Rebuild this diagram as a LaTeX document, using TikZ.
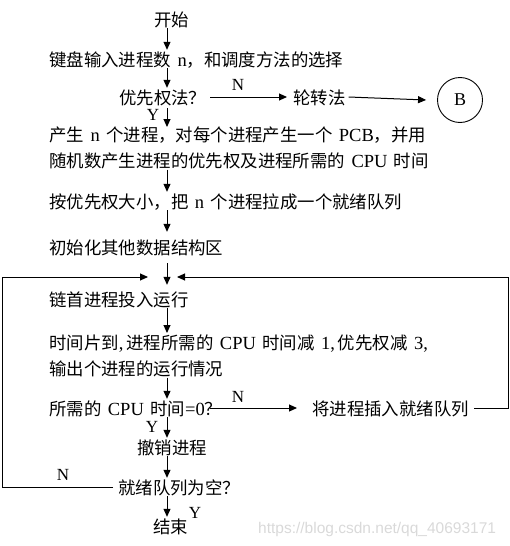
\documentclass[tikz,border=0pt]{standalone}
\usepackage{fontspec}
\setmainfont{Liberation Serif}
\newfontfamily\cjk{Noto Sans CJK SC}
\newfontfamily\wmfont{Liberation Sans}
\usetikzlibrary{arrows.meta,calc}
\newcommand\en[1]{{\rmfamily\fontsize{18.5}{26}\selectfont #1}}
\newcommand\gap{\hspace{6.5pt}}
\tikzset{
  txt/.style={font=\cjk\fontsize{17.4}{26}\selectfont, inner sep=0pt, text height=16pt, text depth=2pt, anchor=base west},
  txttwo/.style={font=\cjk\fontsize{17.4}{26}\selectfont, inner sep=0pt, anchor=north west, align=left},
  arr/.style={-{Triangle[length=8pt,width=7pt]}, line width=1pt},
  lab/.style={font=\rmfamily\fontsize{17}{20}\selectfont, inner sep=0pt},
}
\begin{document}
\begin{tikzpicture}[x=1pt,y=-1pt]
\useasboundingbox (0,0) rectangle (509,546);
\coordinate (sp) at (167,0);
\node[txt] (start) at (154,26) {开始};
\node[txt] (input) at (49,66) {键盘输入进程数\gap\en{n}，和调度方法的选择};
\node[txt] (prio) at (119,104) {优先权法？};
\node[txt] (rr) at (293,104) {轮转法};
\node[circle, draw, line width=0.9pt, minimum size=45pt, inner sep=0pt, font=\rmfamily\fontsize{18}{20}\selectfont] (B) at (460,100) {B};
\node[txttwo] (gen) at (49,127) {产生\gap\en{n}\gap 个进程，对每个进程产生一个\gap\en{PCB}，并用\\随机数产生进程的优先权及进程所需的\gap\en{CPU}\gap 时间};
\node[txt] (sort) at (49,208) {按优先权大小，把\gap\en{n}\gap 个进程拉成一个就绪队列};
\node[txt] (init) at (49,254) {初始化其他数据结构区};
\coordinate (merge) at (167,277);
\coordinate (rc) at (508,277);
\coordinate (lc) at (2,277);
\node[txt] (run) at (49,306) {链首进程投入运行};
\node[txttwo] (slice) at (49,335) {时间片到\en{,}\hspace{3pt}进程所需的\gap\en{CPU}\gap 时间减\gap\en{1,}\hspace{3pt}优先权减\gap\en{3,}\\输出个进程的运行情况};
\node[txt] (zero) at (49,415) {所需的\gap\en{CPU}\gap 时间\en{=0}？};
\node[txt] (insert) at (312,415) {将进程插入就绪队列};
\node[txt] (cancel) at (137,454) {撤销进程};
\node[txt] (empty) at (118,494) {就绪队列为空？};
\node[txt] (end) at (153,533) {结束};
\node[lab] (n1) at (238,85) {N};
\node[lab] (y1) at (153,115) {Y};
\node[lab] (n2) at (238,397) {N};
\node[lab] (y2) at (152,427) {Y};
\node[lab] (n3) at (63,475) {N};
\node[lab] (y3) at (195,513) {Y};
\node[font=\wmfont\fontsize{15.5}{17}\selectfont, text=gray!30, anchor=base west, inner sep=0pt] (wm) at (258,533) {https://blog.csdn.net/qq\_40693171};
% vertical flow
\draw[arr] (start.south -| sp) -- (input.north -| sp);
\draw[arr] (input.south -| sp) -- (prio.north -| sp);
\draw[arr] ([yshift=-2pt]prio.south -| sp) -- (gen.north -| sp);
\draw[arr] (gen.south -| sp) -- (sort.north -| sp);
\draw[arr] (sort.south -| sp) -- ([yshift=6pt]init.north -| sp);
\draw[arr] ([yshift=-7pt]init.south -| sp) -- ([yshift=5pt]run.north -| sp);
\draw[arr] (run.south -| sp) -- ([yshift=2pt]slice.north -| sp);
\draw[arr] (slice.south -| sp) -- (zero.north -| sp);
\draw[arr] (zero.south -| sp) -- (cancel.north -| sp);
\draw[arr] (cancel.south -| sp) -- (empty.north -| sp);
\draw[arr] (empty.south -| sp) -- (end.north -| sp);
% horizontal
\draw[arr] ([xshift=4pt]prio.east) -- ([xshift=-6pt]rr.west);
\draw[arr] ([xshift=3pt]rr.east) -- ([xshift=-11pt]B.west);
\draw[arr] ([xshift=-12pt]zero.east) -- ([xshift=-15pt]insert.west);
% loops
\draw[arr] ([xshift=5pt]insert.east) -| (rc) -- ([xshift=10pt]merge);
\draw[arr] ([xshift=-5pt]empty.west) -| (lc) -- ([xshift=-19pt]merge);
\end{tikzpicture}
\end{document}
